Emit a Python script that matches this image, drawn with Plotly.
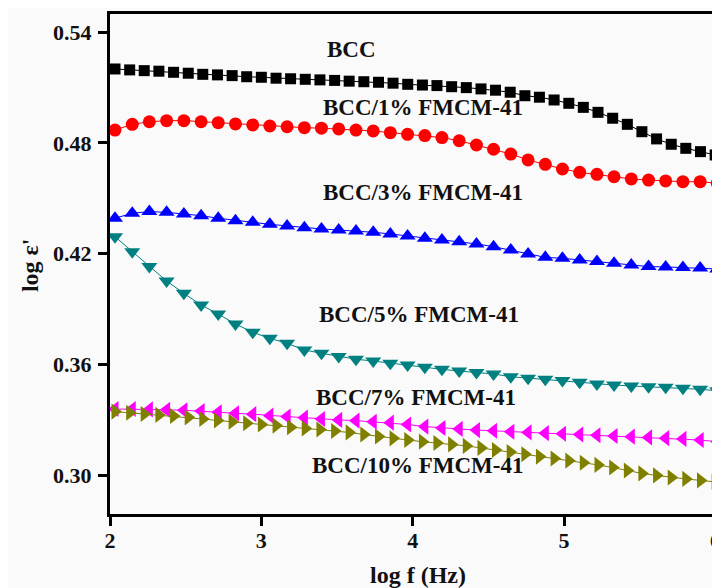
import plotly.graph_objects as go

# log f (Hz) sample positions
x_fine = [2.033, 2.130, 2.226, 2.323, 2.420, 2.517, 2.613, 2.710, 2.807, 2.903,
          3.000, 3.097, 3.193, 3.290, 3.387, 3.484, 3.580, 3.677, 3.774, 3.870,
          3.967, 4.064, 4.160, 4.257, 4.354, 4.451, 4.547, 4.644, 4.741, 4.837,
          4.934, 5.031, 5.127, 5.224, 5.321, 5.418, 5.514, 5.611, 5.708, 5.804,
          5.901, 5.998]
x_coarse = [2.033, 2.147, 2.260, 2.374, 2.488, 2.602, 2.715, 2.829, 2.943, 3.056,
            3.170, 3.284, 3.397, 3.511, 3.625, 3.739, 3.852, 3.966, 4.080, 4.193,
            4.307, 4.421, 4.534, 4.648, 4.762, 4.876, 4.989, 5.103, 5.217, 5.330,
            5.444, 5.558, 5.671, 5.785, 5.899, 6.012]

bcc = [0.5201, 0.5196, 0.5192, 0.5189, 0.5183, 0.5178, 0.5172, 0.5169, 0.5165, 0.5159,
       0.5156, 0.5151, 0.5148, 0.5145, 0.5142, 0.5139, 0.5135, 0.5132, 0.5129, 0.5124,
       0.5118, 0.5114, 0.5111, 0.5105, 0.5100, 0.5093, 0.5086, 0.5075, 0.5056, 0.5048,
       0.5033, 0.5015, 0.4993, 0.4966, 0.4934, 0.4901, 0.4861, 0.4822, 0.4793, 0.4771,
       0.4753, 0.4735]
bcc1 = [0.4870, 0.4901, 0.4915, 0.4921, 0.4921, 0.4915, 0.4910, 0.4903, 0.4898, 0.4892,
        0.4888, 0.4883, 0.4880, 0.4876, 0.4870, 0.4865, 0.4856, 0.4847, 0.4840, 0.4829,
        0.4812, 0.4789, 0.4766, 0.4740, 0.4708, 0.4684, 0.4659, 0.4641, 0.4630, 0.4617,
        0.4605, 0.4599, 0.4594, 0.4590, 0.4590, 0.4582]
bcc3 = [0.4392, 0.4419, 0.4428, 0.4424, 0.4415, 0.4406, 0.4392, 0.4379, 0.4370, 0.4359,
        0.4350, 0.4341, 0.4334, 0.4328, 0.4323, 0.4316, 0.4307, 0.4296, 0.4283, 0.4274,
        0.4265, 0.4253, 0.4238, 0.4220, 0.4198, 0.4180, 0.4175, 0.4166, 0.4157, 0.4148,
        0.4139, 0.4130, 0.4128, 0.4125, 0.4122, 0.4117]
bcc5 = [0.4292, 0.4211, 0.4130, 0.4052, 0.3985, 0.3922, 0.3873, 0.3819, 0.3774, 0.3741,
        0.3714, 0.3678, 0.3660, 0.3642, 0.3628, 0.3618, 0.3606, 0.3597, 0.3584, 0.3573,
        0.3564, 0.3556, 0.3548, 0.3533, 0.3525, 0.3519, 0.3512, 0.3503, 0.3494, 0.3488,
        0.3483, 0.3479, 0.3476, 0.3470, 0.3465, 0.3457]
bcc7 = [0.3358, 0.3358, 0.3356, 0.3354, 0.3351, 0.3347, 0.3340, 0.3335, 0.3330, 0.3322,
        0.3317, 0.3311, 0.3304, 0.3299, 0.3295, 0.3289, 0.3284, 0.3274, 0.3263, 0.3255,
        0.3250, 0.3244, 0.3240, 0.3235, 0.3231, 0.3227, 0.3224, 0.3220, 0.3216, 0.3212,
        0.3208, 0.3204, 0.3200, 0.3196, 0.3190, 0.3181]
bcc10 = [0.3344, 0.3338, 0.3331, 0.3326, 0.3320, 0.3313, 0.3304, 0.3296, 0.3289, 0.3281,
         0.3274, 0.3268, 0.3259, 0.3253, 0.3247, 0.3239, 0.3231, 0.3220, 0.3209, 0.3199,
         0.3190, 0.3181, 0.3174, 0.3166, 0.3158, 0.3147, 0.3136, 0.3125, 0.3113, 0.3100,
         0.3090, 0.3078, 0.3067, 0.3055, 0.3041, 0.3025, 0.3009, 0.2998, 0.2987, 0.2979,
         0.2971, 0.2963]

labels = ["BCC", "BCC/1% FMCM-41", "BCC/3% FMCM-41", "BCC/5% FMCM-41",
          "BCC/7% FMCM-41", "BCC/10% FMCM-41"]
label_x = [3.595, 4.07, 4.07, 4.04, 4.02, 4.03]
label_y = [0.5305, 0.4990, 0.4530, 0.3870, 0.3420, 0.3050]

x_ticks = [2, 3, 4, 5, 6]
y_ticks = [0.30, 0.36, 0.42, 0.48, 0.54]

series = [
    (x_fine, bcc, "square", "#000000", "#000000", 11),
    (x_coarse, bcc1, "circle", "#ff0000", "#ff0000", 13),
    (x_coarse, bcc3, "triangle-up", "#0000ff", "#0000ff", 14),
    (x_coarse, bcc5, "triangle-down", "#008080", "#008080", 14),
    (x_coarse, bcc7, "triangle-left", "#ff00ff", "#ff00ff", 14),
    (x_fine, bcc10, "triangle-right", "#808000", "#808000", 14),
]

TXT = "#111111"
FAM = "Liberation Serif"

fig = go.Figure()
for (xs, ys, sym, col, lcol, sz), name in zip(series, labels):
    fig.add_trace(go.Scatter(
        x=xs, y=ys, mode="lines+markers", name=name,
        line=dict(color=lcol, width=1),
        marker=dict(symbol=sym, color=col, size=sz, line=dict(width=0)),
        showlegend=False,
    ))

for t, lx, ly in zip(labels, label_x, label_y):
    fig.add_annotation(x=lx, y=ly, text=t, showarrow=False, xref="x", yref="y",
                       font=dict(family=FAM, size=23, color=TXT, weight="bold"))

# axis titles
fig.add_annotation(x=0.505, y=-0.122, xref="paper", yref="paper", text="log f (Hz)",
                   showarrow=False, xanchor="center", yanchor="middle",
                   font=dict(family=FAM, size=24, color=TXT, weight="bold"))
fig.add_annotation(x=-0.131, y=0.498, xref="paper", yref="paper", text="log ε'",
                   showarrow=False, xanchor="center", yanchor="middle", textangle=-90,
                   font=dict(family=FAM, size=24, color=TXT, weight="bold"))

# page body has an 8px margin, so the figure is 8px smaller on each side
fig.update_layout(
    width=712, height=580,
    margin=dict(l=102, r=0, t=6, b=74),
    paper_bgcolor="#fafafa", plot_bgcolor="#fafafa",
    font=dict(family=FAM, color=TXT),
)
fig.update_xaxes(
    range=[2, 6.03], tickvals=x_ticks, ticktext=[str(v) for v in x_ticks],
    showline=True, linecolor="#000000", linewidth=3, mirror=True,
    ticks="outside", ticklen=9, tickwidth=3, tickcolor="#000000",
    showgrid=False, zeroline=False, automargin=False, ticklabeloverflow="allow",
    ticklabelstandoff=-4,
    tickfont=dict(family=FAM, size=22, color=TXT, weight="bold"),
)
fig.update_yaxes(
    range=[0.2789, 0.5499], tickvals=y_ticks, ticktext=["%.2f" % v for v in y_ticks],
    showline=True, linecolor="#000000", linewidth=3,
    ticks="outside", ticklen=9, tickwidth=3, tickcolor="#000000",
    showgrid=False, zeroline=False, automargin=False, ticklabelstandoff=2,
    tickfont=dict(family=FAM, size=22, color=TXT, weight="bold"),
)

fig.write_html("out.html")
